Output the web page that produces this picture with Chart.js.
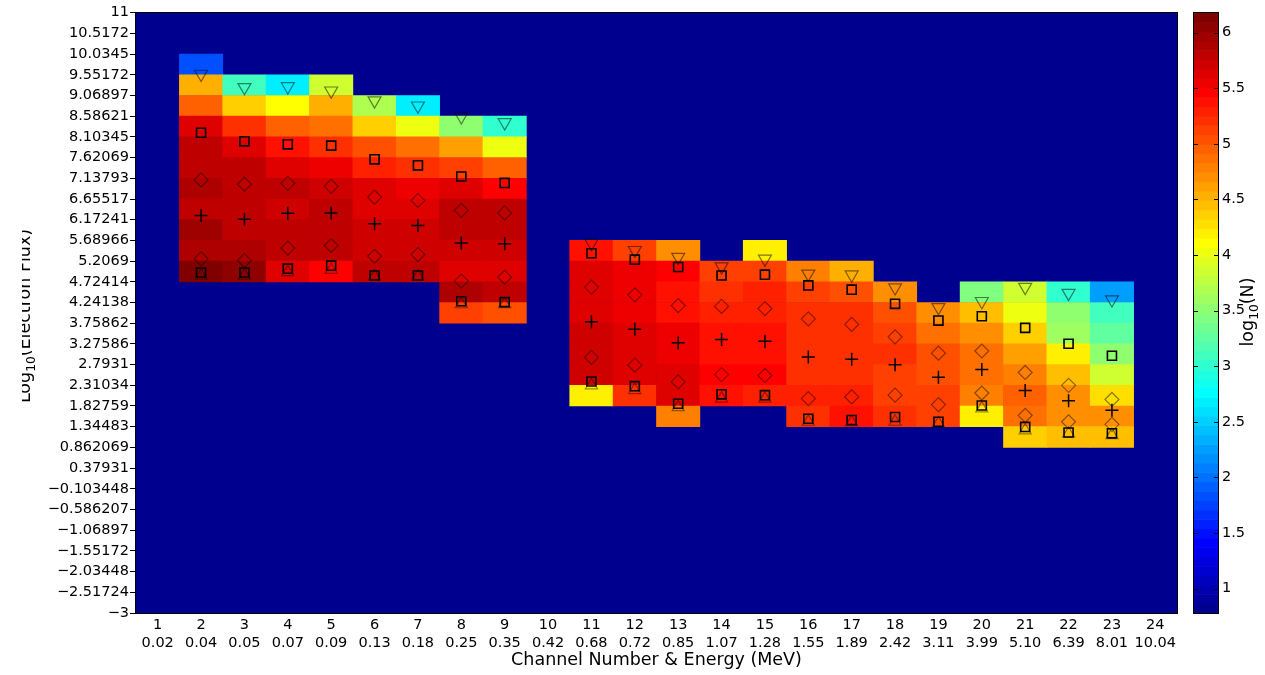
<!DOCTYPE html>
<html>
<head>
<meta charset="utf-8">
<script src="https://cdn.jsdelivr.net/npm/chart.js@4.4.1/dist/chart.umd.min.js"></script>
<style>
  html, body { margin: 0; padding: 0; background: #fff; }
  #wrap { position: relative; width: 1265px; height: 675px; }
</style>
</head>
<body>
<div id="wrap"><canvas id="chart" width="1265" height="675"></canvas></div>
<script>
// axis labels
const channels = [1, 2, 3, 4, 5, 6, 7, 8, 9, 10, 11, 12, 13, 14, 15, 16, 17, 18, 19, 20, 21, 22, 23, 24];
const energies = ['0.02', '0.04', '0.05', '0.07', '0.09', '0.13', '0.18', '0.25', '0.35', '0.42', '0.68', '0.72',
  '0.85', '1.07', '1.28', '1.55', '1.89', '2.42', '3.11', '3.99', '5.10', '6.39', '8.01', '10.04'];
const yTickLabels = ['−3', '−2.51724', '−2.03448', '−1.55172', '−1.06897', '−0.586207', '−0.103448', '0.37931',
  '0.862069', '1.34483', '1.82759', '2.31034', '2.7931', '3.27586', '3.75862', '4.24138', '4.72414', '5.2069',
  '5.68966', '6.17241', '6.65517', '7.13793', '7.62069', '8.10345', '8.58621', '9.06897', '9.55172', '10.0345',
  '10.5172', '11'];
const cbTickLabels = ['1', '1.5', '2', '2.5', '3', '3.5', '4', '4.5', '5', '5.5', '6'];

// heat map cells: one column per channel, top row counted from the top tick, values log10(N)
const cellChannels = [2, 3, 4, 5, 6, 7, 8, 9, 11, 12, 13, 14, 15, 16, 17, 18, 19, 20, 21, 22, 23];
const cellTopRow = [2, 3, 3, 3, 4, 4, 5, 5, 11, 11, 11, 12, 11, 12, 12, 13, 14, 13, 13, 13, 13];
const cellLogN = [
  [1.85, 4.5, 4.95, 5.6, 5.8, 5.8, 5.85, 5.8, 5.95, 5.9, 6.1],
  [3.07, 4.4, 5.2, 5.66, 5.77, 5.8, 5.78, 5.8, 5.87, 6.05],
  [2.71, 4.08, 4.93, 5.41, 5.66, 5.78, 5.74, 5.78, 5.78, 5.6],
  [3.9, 4.52, 4.88, 5.24, 5.52, 5.72, 5.77, 5.77, 5.8, 5.5],
  [3.67, 4.38, 5.04, 5.3, 5.6, 5.63, 5.74, 5.72, 5.8],
  [2.66, 4.05, 4.88, 5.2, 5.58, 5.6, 5.72, 5.7, 5.78],
  [3.48, 4.61, 5.15, 5.66, 5.78, 5.77, 5.72, 5.66, 5.85, 5.15],
  [3.02, 4.04, 4.99, 5.45, 5.77, 5.78, 5.7, 5.66, 5.8, 5.04],
  [5.36, 5.6, 5.6, 5.66, 5.7, 5.68, 5.74, 4.16],
  [5.15, 5.58, 5.58, 5.58, 5.62, 5.62, 5.62, 5.2],
  [4.72, 5.45, 5.4, 5.41, 5.52, 5.56, 5.66, 5.62, 4.77],
  [5.15, 5.24, 5.3, 5.36, 5.41, 5.47, 5.36],
  [4.16, 5.15, 5.3, 5.3, 5.36, 5.41, 5.47, 5.3],
  [4.8, 5.15, 5.2, 5.24, 5.2, 5.2, 5.3, 5.24],
  [4.52, 5.04, 5.2, 5.24, 5.24, 5.24, 5.3, 5.41],
  [4.72, 5.04, 5.1, 5.24, 5.15, 5.15, 5.2],
  [4.67, 4.88, 5.04, 5.04, 5.1, 5.1],
  [3.43, 4.45, 4.67, 4.86, 4.9, 4.8, 4.16],
  [3.86, 4.0, 4.35, 4.61, 4.8, 4.99, 4.88, 4.35],
  [3.02, 3.48, 3.62, 4.16, 4.45, 4.67, 4.72, 4.45],
  [2.28, 3.07, 3.27, 3.48, 3.86, 4.24, 4.67, 4.45]
];

// markers, one value per cell column
const triDown = [9.57, 9.26, 9.28, 9.18, 8.95, 8.83, 8.58, 8.44, 5.63, 5.46, 5.3, 5.08, 5.26, 4.91, 4.89, 4.59, 4.13, 4.27, 4.6, 4.46, 4.31];
const squareTop = [8.2, 8.0, 7.93, 7.9, 7.58, 7.44, 7.18, 7.03, 5.39, 5.24, 5.07, 4.87, 4.89, 4.64, 4.54, 4.21, 3.82, 3.92, 3.65, 3.28, 3.0];
const diamondTop = [7.1, 7.0, 7.02, 6.95, 6.7, 6.62, 6.39, 6.33, 4.6, 4.42, 4.17, 4.15, 4.1, 3.86, 3.73, 3.44, 3.06, 3.11, 2.61, 2.31, 1.98];
const plusMid = [6.27, 6.18, 6.32, 6.33, 6.08, 6.04, 5.63, 5.61, 3.79, 3.62, 3.3, 3.38, 3.34, 2.97, 2.92, 2.79, 2.5, 2.68, 2.19, 1.95, 1.73];
const diamondLow = [5.26, 5.22, 5.51, 5.57, 5.32, 5.36, 4.74, 4.83, 2.96, 2.78, 2.39, 2.56, 2.54, 2.0, 2.04, 2.08, 1.86, 2.13, 1.61, 1.46, 1.4];
const squareLow = [4.94, 4.94, 5.03, 5.1, 4.87, 4.87, 4.27, 4.25, 2.4, 2.29, 1.88, 2.1, 2.08, 1.53, 1.5, 1.57, 1.46, 1.84, 1.34, 1.21, 1.19];
const triUp = [4.87, 4.87, 4.95, 5.0, 4.85, 4.85, 4.2, 4.2, 2.31, 2.2, 1.8, 2.0, 2.0, 1.46, 1.45, 1.46, 1.42, 1.77, 1.26, 1.18, 1.15];

const cMin = 0.78, cMax = 6.18;
const FONT = 'DejaVu Sans';

// matlab jet(64)
const jet = (v) => {
  const t = (v - cMin) / (cMax - cMin);
  const idx = Math.min(64, Math.max(1, Math.floor(t * 64) + 1));
  const s = idx / 64;
  const f = (d) => Math.round(255 * Math.min(1, Math.max(0, 1.5 - Math.abs(4 * s - d))));
  return 'rgb(' + f(3) + ',' + f(2) + ',' + f(1) + ')';
};

const yTickValues = yTickLabels.map((s) => parseFloat(s.replace('−', '-')));
const cbTickValues = cbTickLabels.map(parseFloat);
const rowEdge = (k) => yTickValues[yTickValues.length - 1 - k];

const cells = [];
const cellColors = [];
cellChannels.forEach((ch, i) => {
  cellLogN[i].forEach((v, j) => {
    const k = cellTopRow[i] + j;
    cells.push({ x: ch, y: [rowEdge(k + 1), rowEdge(k)] });
    cellColors.push(jet(v));
  });
});

const markers = (values, style) => Object.assign({
  type: 'scatter',
  data: values.map((v, i) => ({ x: cellChannels[i], y: v })),
  pointBackgroundColor: 'rgba(0,0,0,0)',
  order: 0,
}, style);

const drawSubLabel = (ctx, parts, x, y, size) => {
  ctx.save();
  ctx.translate(x, y);
  ctx.rotate(-Math.PI / 2);
  ctx.fillStyle = '#000';
  ctx.textBaseline = 'alphabetic';
  ctx.textAlign = 'left';
  const setFont = (sub) => { ctx.font = (sub ? size * 0.7 : size) + 'px "' + FONT + '"'; };
  const widths = parts.map(([t, sub]) => { setFont(sub); return ctx.measureText(t).width; });
  let cx = -widths.reduce((a, b) => a + b, 0) / 2;
  parts.forEach(([t, sub], i) => {
    setFont(sub);
    ctx.fillText(t, cx, sub ? size * 0.3 : 0);
    cx += widths[i];
  });
  ctx.restore();
};

const heatPlugin = {
  id: 'heat',
  beforeDatasetsDraw(chart) {
    const { ctx, chartArea: a } = chart;
    ctx.save();
    ctx.fillStyle = jet(-100);
    ctx.fillRect(a.left, a.top, a.right - a.left, a.bottom - a.top);
    ctx.restore();
  },
  afterDatasetsDraw(chart) {
    const { ctx, chartArea: a } = chart;
    ctx.save();
    ctx.strokeStyle = '#000';
    ctx.lineWidth = 1;
    ctx.strokeRect(Math.round(a.left) - 0.5, Math.round(a.top) - 0.5, Math.round(a.right - a.left) + 1, Math.round(a.bottom - a.top) + 1);
    ctx.restore();
  },
  afterDraw(chart) {
    const ctx = chart.ctx;
    const cb = chart.scales.cb;
    const left = 1194, right = 1218;

    // colour bar
    ctx.save();
    for (let i = 0; i < 64; i++) {
      const v0 = cMin + (cMax - cMin) * i / 64;
      const v1 = cMin + (cMax - cMin) * (i + 1) / 64;
      const y0 = cb.getPixelForValue(v0);
      const y1 = cb.getPixelForValue(v1);
      ctx.fillStyle = jet((v0 + v1) / 2);
      ctx.fillRect(left, y1, right - left, y0 - y1 + 0.6);
    }
    ctx.strokeStyle = '#000';
    ctx.lineWidth = 1;
    ctx.strokeRect(left - 0.5, Math.round(cb.top) - 0.5, right - left + 1, Math.round(cb.bottom - cb.top) + 1);
    ctx.beginPath();
    cb.ticks.forEach((t) => {
      const y = Math.round(cb.getPixelForValue(t.value)) + 0.5;
      ctx.moveTo(left, y); ctx.lineTo(left + 4, y);
      ctx.moveTo(right - 4, y); ctx.lineTo(right, y);
    });
    ctx.stroke();
    ctx.restore();

    drawSubLabel(ctx, [['log', false], ['10', true], ['(N)', false]], 1253, 312, 17.5);

    // y title, cut by the left edge like the source figure
    ctx.save();
    ctx.beginPath();
    ctx.rect(22, 0, 100, 675);
    ctx.clip();
    drawSubLabel(ctx, [['Log', false], ['10', true], ['(Electron Flux)', false]], 30, 316, 17.5);
    ctx.restore();
  }
};

Chart.defaults.font.family = FONT;
Chart.defaults.color = '#000';

new Chart(document.getElementById('chart'), {
  type: 'bar',
  data: {
    datasets: [
      markers(triDown, { pointStyle: 'triangle', pointRotation: 180, pointRadius: 7.5, pointBorderColor: 'rgba(0,0,0,0.5)', pointBorderWidth: 1.2 }),
      markers(squareTop, { pointStyle: 'rect', pointRadius: 6.4, pointBorderColor: '#000', pointBorderWidth: 1.6 }),
      markers(diamondTop, { pointStyle: 'rectRot', pointRadius: 7, pointBorderColor: 'rgba(0,0,0,0.45)', pointBorderWidth: 1.2 }),
      markers(plusMid, { pointStyle: 'cross', pointRadius: 6.5, pointBorderColor: '#000', pointBorderWidth: 1.5 }),
      markers(diamondLow, { pointStyle: 'rectRot', pointRadius: 7, pointBorderColor: 'rgba(0,0,0,0.45)', pointBorderWidth: 1.2 }),
      markers(squareLow, { pointStyle: 'rect', pointRadius: 6.4, pointBorderColor: '#000', pointBorderWidth: 1.6 }),
      markers(triUp, { pointStyle: 'triangle', pointRadius: 7, pointBorderColor: 'rgba(0,0,0,0.4)', pointBorderWidth: 1.2 }),
      {
        type: 'bar',
        data: cells,
        backgroundColor: cellColors,
        borderWidth: 0,
        barPercentage: 1,
        categoryPercentage: 1,
        order: 10,
      },
    ],
  },
  options: {
    responsive: false,
    animation: false,
    events: [],
    layout: { padding: { top: 12, right: 0, bottom: 0, left: 0 } },
    plugins: { legend: { display: false }, tooltip: { enabled: false } },
    scales: {
      x: {
        type: 'linear',
        min: 0.5,
        max: 24.5,
        offset: false,
        grid: { display: false, drawTicks: false },
        border: { display: true, color: '#000' },
        afterBuildTicks: (scale) => { scale.ticks = channels.map((c) => ({ value: c })); },
        afterFit: (scale) => { scale.height = 62; },
        ticks: {
          autoSkip: false,
          maxRotation: 0,
          padding: 4,
          font: { size: 14.5, lineHeight: 1.2 },
          callback: (value, index) => [String(channels[index]), energies[index]],
        },
        title: {
          display: true,
          text: 'Channel Number & Energy (MeV)',
          font: { size: 17.5 },
          padding: { top: 0, bottom: 4.5 },
        },
      },
      y: {
        type: 'linear',
        min: -3,
        max: 11,
        grid: { drawOnChartArea: false, drawTicks: true, tickLength: 6, color: '#000' },
        border: { display: true, color: '#000' },
        afterBuildTicks: (scale) => { scale.ticks = yTickValues.map((v) => ({ value: v })); },
        afterFit: (scale) => { scale.width = 136; },
        ticks: {
          autoSkip: false,
          padding: 1,
          font: { size: 14.5 },
          callback: (value, index) => yTickLabels[index],
        },
      },
      cb: {
        type: 'linear',
        axis: 'y',
        position: 'right',
        min: cMin,
        max: cMax,
        // long invisible tick marks push the labels past the colour bar
        grid: { display: true, drawOnChartArea: false, drawTicks: true, tickLength: 41, color: 'rgba(0,0,0,0)' },
        border: { display: false },
        afterBuildTicks: (scale) => { scale.ticks = cbTickValues.map((v) => ({ value: v })); },
        afterFit: (scale) => { scale.width = 88; },
        ticks: {
          autoSkip: false,
          padding: 4,
          font: { size: 14.5 },
          callback: (value, index) => cbTickLabels[index],
        },
      },
    },
  },
  plugins: [heatPlugin],
});
</script>
</body>
</html>
